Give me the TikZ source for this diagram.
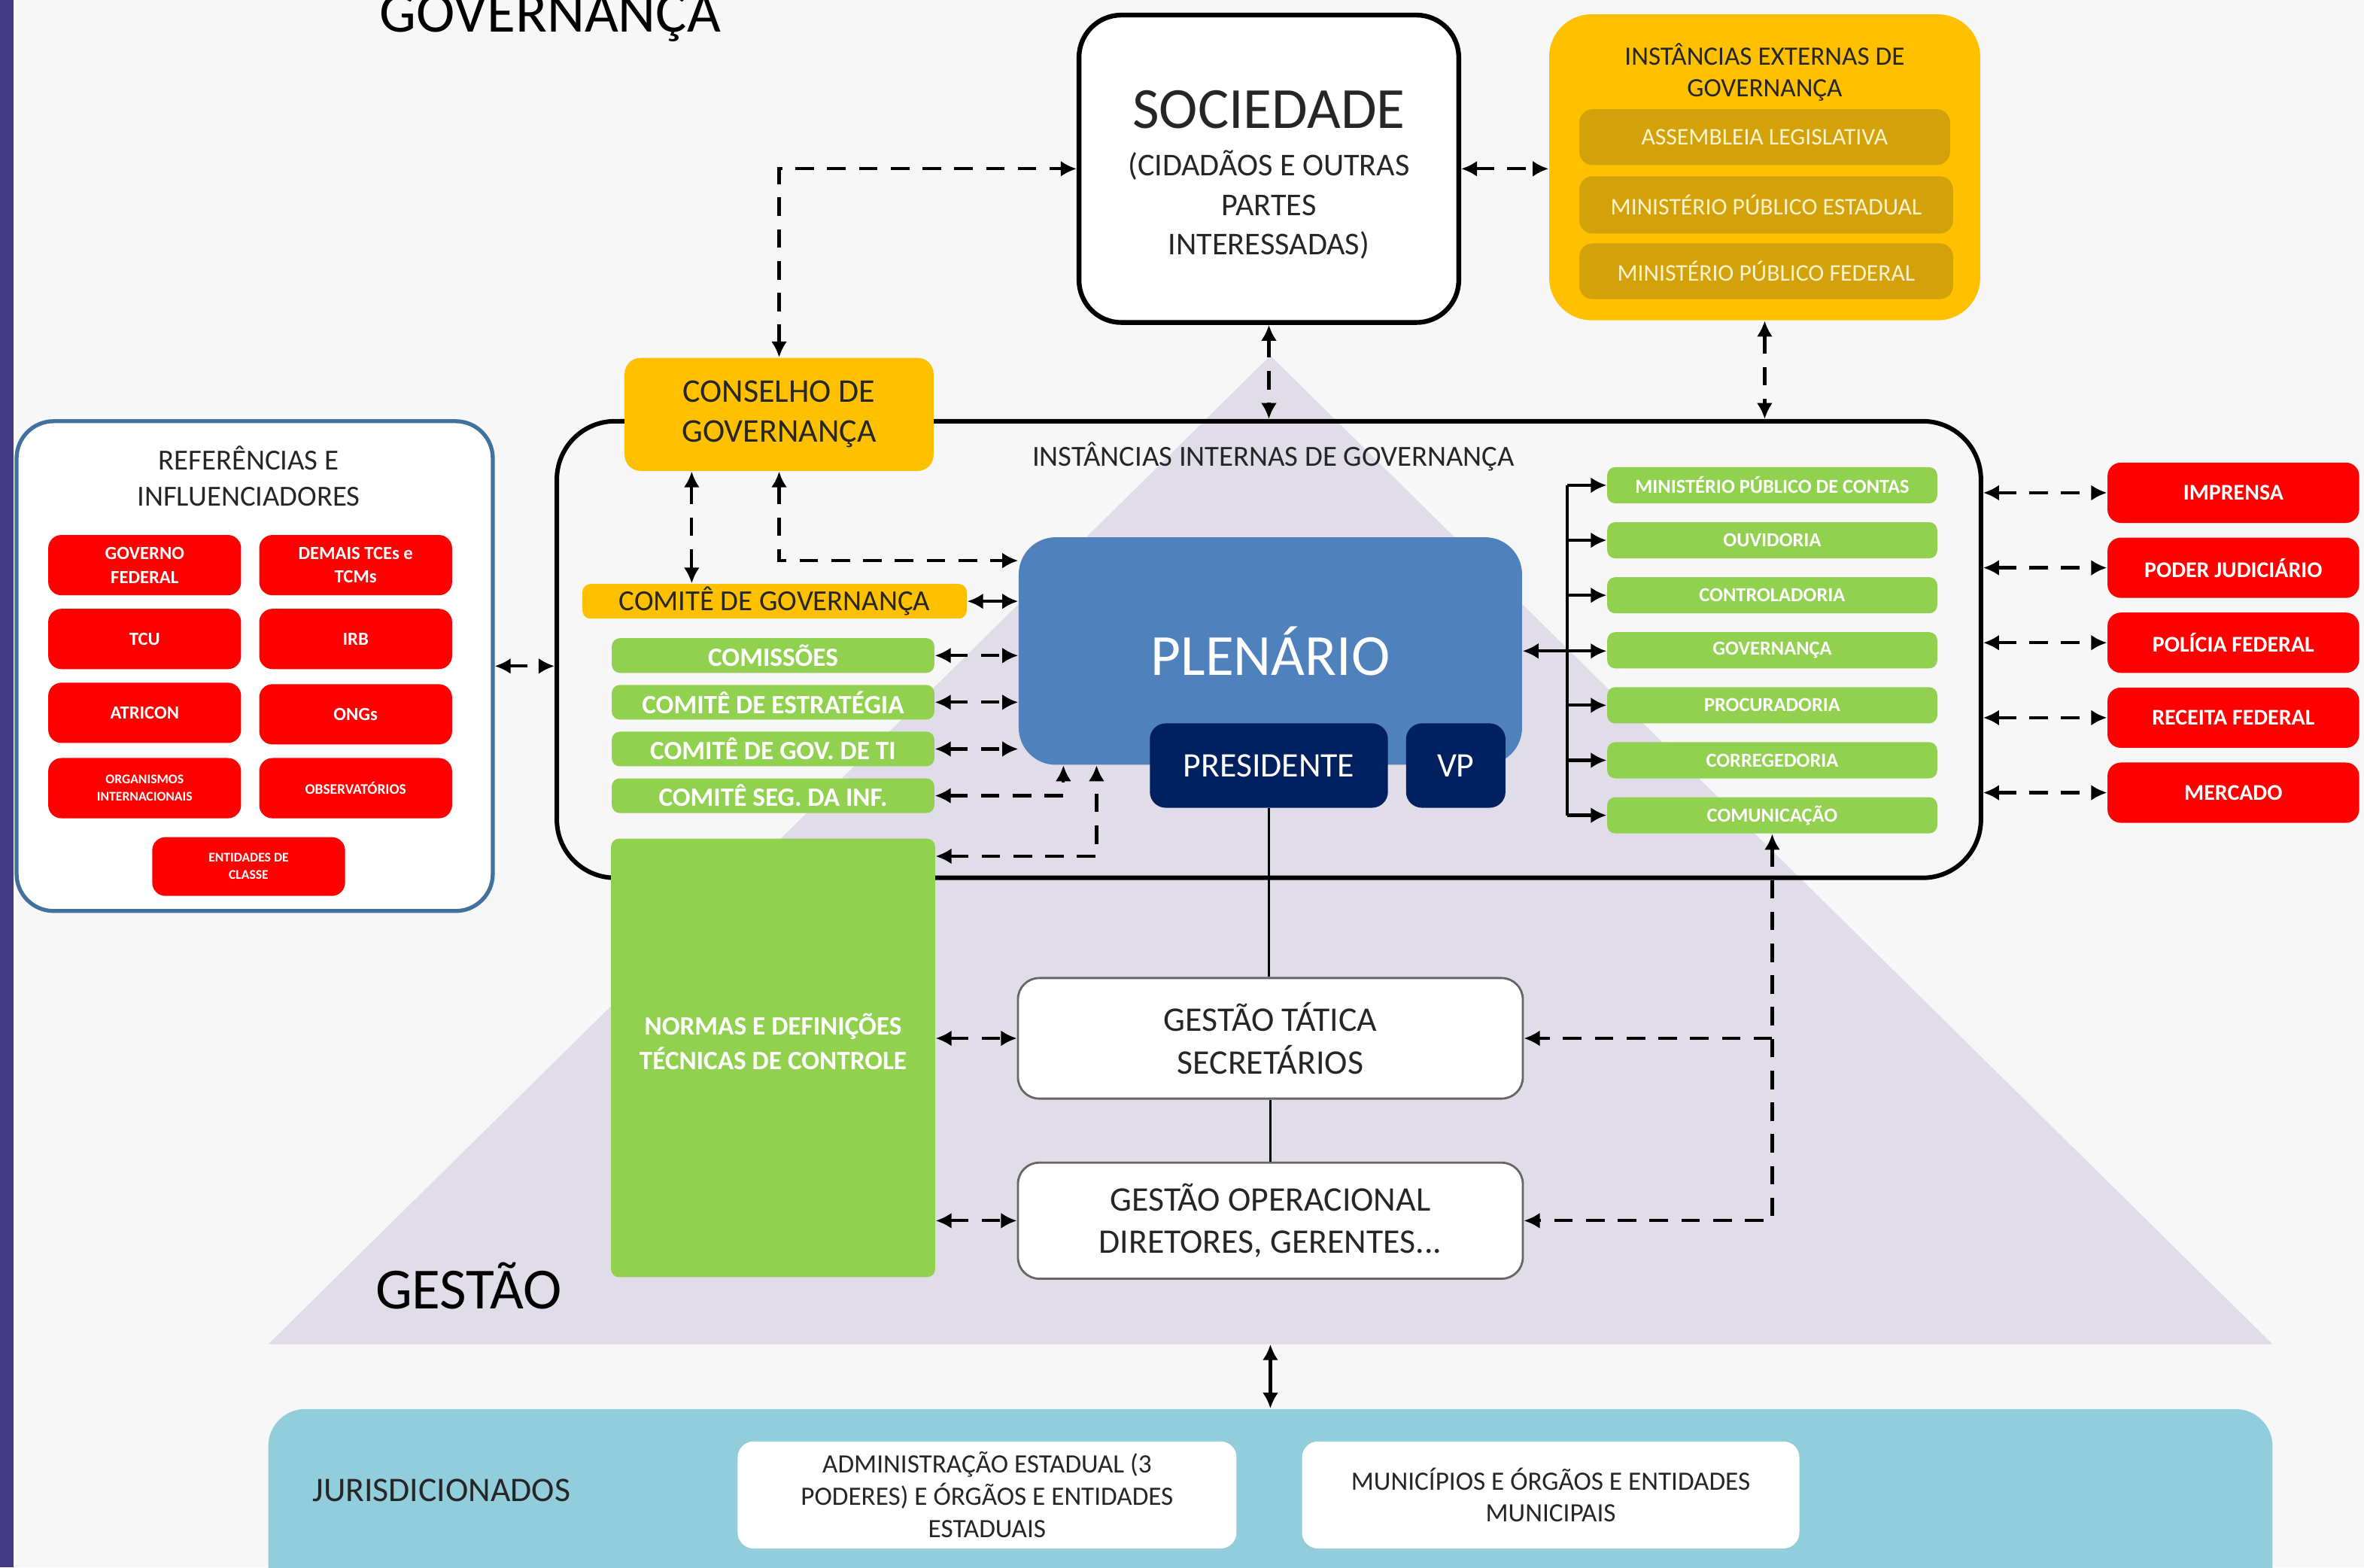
\documentclass[tikz,border=0pt]{standalone}
\usepackage{fontspec}
\setmainfont{Carlito}
\usetikzlibrary{positioning}
\usetikzlibrary{calc, arrows.meta}

\definecolor{fundo}{HTML}{F7F7F7}
\definecolor{roxo}{HTML}{433A86}
\definecolor{piramide}{HTML}{E0DCE8}
\definecolor{ambar}{HTML}{FFC000}
\definecolor{ouro}{HTML}{D3A20B}
\definecolor{creme}{HTML}{FFF2CC}
\definecolor{verde}{HTML}{92D050}
\definecolor{vermelho}{HTML}{FF0000}
\definecolor{azulplen}{HTML}{4F81BD}
\definecolor{marinho}{HTML}{002060}
\definecolor{azulclaro}{HTML}{92CDDC}
\definecolor{azulborda}{HTML}{41719C}
\definecolor{texto}{HTML}{262626}

\begin{document}
\begin{tikzpicture}[x=0.02cm, y=-0.02cm, >={Latex[length=6pt,width=6pt]},
  tam/.style 2 args={minimum width=#1*0.02cm, minimum height=#2*0.02cm, inner sep=0pt, align=center},
  verdecx/.style={fill=verde, rounded corners=3pt, text=white, font=\bfseries\fontsize{10}{13}\selectfont},
  vermcx/.style={fill=vermelho, rounded corners=5pt, text=white, font=\bfseries\fontsize{7}{9}\selectfont},
  ambarcx/.style={fill=ambar, rounded corners=6pt, text=texto},
  ourocx/.style={fill=ouro, rounded corners=5pt, text=creme, font=\fontsize{9}{10}\selectfont},
  brancocx/.style={fill=white, draw=gray!80!black, line width=0.8pt, rounded corners=8pt, text=texto, font=\fontsize{13}{16}\selectfont},
  marinhocx/.style={fill=marinho, rounded corners=6pt, text=white, font=\fontsize{13}{15}\selectfont},
  lig/.style={line width=1.2pt},
  tracej/.style={line width=1.2pt, dash pattern=on 7pt off 5pt},
]

  \fill[fundo] (0,0) rectangle (1568.7,1040); % fundo
  \fill[roxo] (0,0) rectangle (9,1040); % faixa lateral
  \useasboundingbox (0,0) rectangle (1568.7,1040);

  % Pirâmide
  \fill[piramide] (843,236) -- (178,892) -- (1508,892) -- cycle;
  \coordinate (base) at (843,892);

  \node[anchor=base, text=black, font=\fontsize{22}{26}\selectfont] (titgov) at (365,21) {GOVERNANÇA};
  \node[text=black, font=\fontsize{22}{26}\selectfont] (titges) at (311,853) {GESTÃO};

  % Sociedade e instâncias externas
  \node[tam={252}{204}, fill=white, draw=black, line width=1.8pt, rounded corners=16pt, text=texto,
        font=\fontsize{12}{15}\selectfont] (soc) at (842,112) {};
  \node[text=texto, align=center, font=\fontsize{12}{15}\selectfont] (soctxt) at (842,116)
    {{\fontsize{22}{26}\selectfont SOCIEDADE}\\[3pt](CIDADÃOS E OUTRAS\\PARTES\\INTERESSADAS)};
  \node[tam={286}{203}, ambarcx, rounded corners=16pt] (ext) at (1171,111) {};
  \node[text=texto, align=center, font=\fontsize{10}{12}\selectfont] (exttit) at (1171,48) {INSTÂNCIAS EXTERNAS DE\\GOVERNANÇA};
  \node[tam={246}{37}, ourocx] (ext1) at (1171,91) {ASSEMBLEIA LEGISLATIVA};
  \node[tam={248}{38}, ourocx] (ext2) at (1172,136) {MINISTÉRIO PÚBLICO ESTADUAL};
  \node[tam={248}{37}, ourocx] (ext3) at (1172,180) {MINISTÉRIO PÚBLICO FEDERAL};

  % Instâncias internas
  \node[tam={945}{303}, draw=black, line width=1.7pt, rounded corners=22pt] (int) at (842,431) {};
  \node[text=texto, font=\fontsize{11}{13}\selectfont] (inttit) at (845,303) {INSTÂNCIAS INTERNAS DE GOVERNANÇA};

  % Referências e influenciadores
  \node[tam={316}{325}, fill=white, draw=azulborda, line width=1.5pt, rounded corners=14pt] (ref) at (169,442) {};
  \node[text=texto, align=center, font=\fontsize{11}{13.5}\selectfont] (reftit) at (165,316) {REFERÊNCIAS E\\INFLUENCIADORES};
  \node[tam={128}{40}, vermcx] (gov) at (96,375) {GOVERNO\\FEDERAL};
  \node[tam={128}{40}, vermcx] (dem) at (236,375) {DEMAIS TCEs e\\TCMs};
  \node[tam={128}{40}, vermcx] (tcu) at (96,424) {TCU};
  \node[tam={128}{40}, vermcx] (irb) at (236,424) {IRB};
  \node[tam={128}{40}, vermcx] (atr) at (96,473) {ATRICON};
  \node[tam={128}{40}, vermcx] (ong) at (236,474) {ONGs};
  \node[tam={128}{40}, vermcx, font=\bfseries\fontsize{5}{6.5}\selectfont] (org) at (96,523) {ORGANISMOS\\INTERNACIONAIS};
  \node[tam={128}{40}, vermcx, font=\bfseries\fontsize{5.5}{6.5}\selectfont] (obs) at (236,523) {OBSERVATÓRIOS};
  \node[tam={128}{39}, vermcx, font=\bfseries\fontsize{5}{6.5}\selectfont] (ent) at (165,575) {ENTIDADES DE\\CLASSE};

  % Conselho, comitês e normas
  \node[tam={205}{75}, ambarcx, font=\fontsize{12.5}{15}\selectfont] (cons) at (517,275) {CONSELHO DE\\GOVERNANÇA};
  \node[tam={255}{23}, ambarcx, rounded corners=3pt, font=\fontsize{11}{13}\selectfont] (cgov) at (514,399) {COMITÊ DE GOVERNANÇA};
  \node[tam={214}{23}, verdecx] (com) at (513,435) {COMISSÕES};
  \node[tam={214}{23}, verdecx] (est) at (513,466) {COMITÊ DE ESTRATÉGIA};
  \node[tam={214}{23}, verdecx] (ti) at (513,497) {COMITÊ DE GOV. DE TI};
  \node[tam={214}{23}, verdecx] (seg) at (513,528) {COMITÊ SEG. DA INF.};
  \node[tam={215}{291}, verdecx] (norm) at (513,702) {};
  \node[align=center, text=white, font=\bfseries\fontsize{10}{13}\selectfont] (normtxt) at (513,691) {NORMAS E DEFINIÇÕES\\TÉCNICAS DE CONTROLE};

  % Plenário
  \node[tam={334}{151}, fill=azulplen, rounded corners=14pt, text=white, font=\fontsize{22}{26}\selectfont] (plen) at (843,432) {PLENÁRIO};
  \node[tam={158}{56}, marinhocx] (pres) at (842,508) {PRESIDENTE};
  \node[tam={66}{56}, marinhocx] (vp) at (966,508) {VP};

  % Unidades internas (direita)
  \foreach \nome [count=\i] in {MINISTÉRIO PÚBLICO DE CONTAS, OUVIDORIA, CONTROLADORIA, GOVERNANÇA, PROCURADORIA, CORREGEDORIA, COMUNICAÇÃO}
    \node[tam={219}{24}, verdecx, font=\bfseries\fontsize{7.5}{9}\selectfont] (r\i) at (1176,{322+36.5*(\i-1)}) {\nome};

  % Atores externos (direita)
  \foreach \nome [count=\i] in {IMPRENSA, PODER JUDICIÁRIO, POLÍCIA FEDERAL, RECEITA FEDERAL, MERCADO}
    \node[tam={167}{40}, vermcx, font=\bfseries\fontsize{8.5}{10}\selectfont] (q\i) at (1482,{327+49.75*(\i-1)}) {\nome};

  % Gestão
  \node[tam={335}{80}, brancocx] (tat) at (843,689) {GESTÃO TÁTICA\\SECRETÁRIOS};
  \node[tam={335}{77}, brancocx] (ope) at (843,810) {GESTÃO OPERACIONAL\\DIRETORES, GERENTES...};

  % Jurisdicionados
  \node[tam={1330}{130}, fill=azulclaro, rounded corners=14pt] (jur) at (843,1000) {};
  \node[text=texto, font=\fontsize{13}{15}\selectfont] (jurtit) at (293,989) {JURISDICIONADOS};
  \node[tam={331}{71}, fill=white, rounded corners=6pt, text=texto, font=\fontsize{10}{12.2}\selectfont] (adm) at (655,992)
    {ADMINISTRAÇÃO ESTADUAL (3\\PODERES) E ÓRGÃOS E ENTIDADES\\ESTADUAIS};
  \node[tam={330}{71}, fill=white, rounded corners=6pt, text=texto, font=\fontsize{10}{12.2}\selectfont] (mun) at (1029,992)
    {MUNICÍPIOS E ÓRGÃOS E ENTIDADES\\MUNICIPAIS};

  % Ligações
  \draw[tracej,<->] (cons.north) |- (soc.west); % conselho - sociedade
  \draw[tracej,<->] (soc.east) -- (soc.east -| ext.west); % sociedade - externas
  \draw[tracej,<->] (soc.south) -- (soc.south |- int.north); % sociedade - internas
  \draw[tracej,<->] (ext.south) -- (ext.south |- int.north); % externas - internas
  \draw[tracej,<->] (ref.east) -- (ref.east -| int.west); % referências - internas

  \coordinate (c1) at ($(cons.south)+(-58,0)$);
  \draw[tracej,<->] (c1) -- (c1 |- cgov.north); % conselho - comitê
  \draw[tracej,<->] (cons.south) |- ($(plen.west)+(0,-60)$); % conselho - plenário
  \draw[lig,<->] (cgov.east) -- (cgov.east -| plen.west);
  \foreach \c in {com, est, ti}
    \draw[tracej,<->] (\c.east) -- (\c.east -| plen.west);
  \draw[tracej,<->] (seg.east) -| ($(plen.south west)+(30,0)$);
  \draw[tracej,<->] ($(norm.north east)+(0,12)$) -| ($(plen.south west)+(52,0)$);
  \draw[tracej,<->] (tat.west -| norm.east) -- (tat.west);
  \draw[tracej,<->] (ope.west -| norm.east) -- (ope.west);

  \coordinate (bus) at ($(r1.west)+(-26,0)$);
  \draw[lig] (bus |- r1.west) -- (bus |- r7.west); % barramento
  \draw[lig,<->] (plen.east) -- (plen.east -| r4.west);
  \foreach \i in {1,2,3,5,6,7}
    \draw[lig,->] (bus |- r\i.west) -- (r\i.west);
  \foreach \i in {1,...,5}
    \draw[tracej,<->] (q\i.west -| int.east) -- (q\i.west);

  \draw[line width=0.8pt] (pres.south) -- (pres.south |- tat.north); % presidente - tática
  \draw[line width=0.8pt] (tat.south) -- (ope.north); % tática - operacional
  \draw[tracej,<->] (r7.south) |- (ope.east); % comunicação - gestão
  \draw[tracej,->] (r7.south |- tat.east) -- (tat.east);
  \draw[lig,<->] (base) -- (jur.north); % gestão - jurisdicionados

\end{tikzpicture}
\end{document}
